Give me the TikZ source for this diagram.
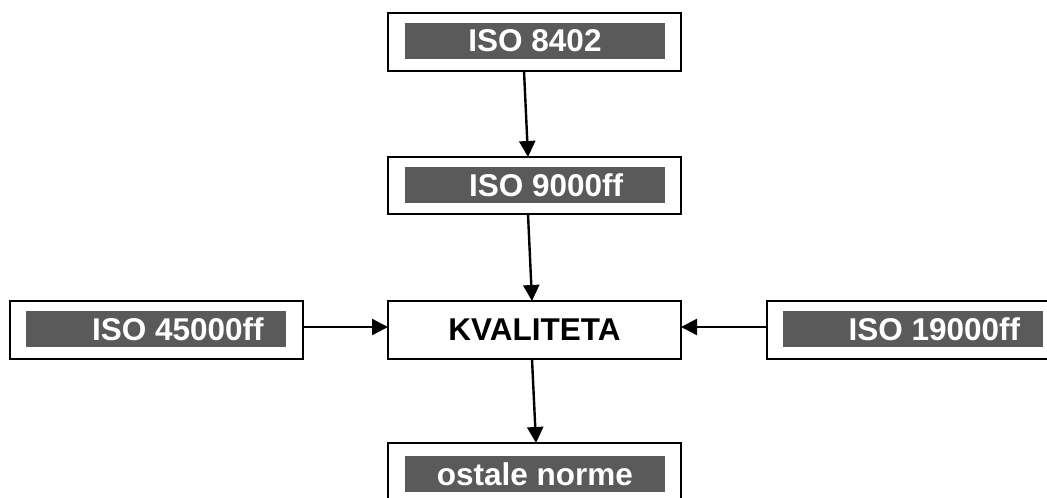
\documentclass[tikz,border=0pt]{standalone}
\usepackage{fontspec}
\setmainfont{Liberation Sans}
\usetikzlibrary{arrows.meta}
\definecolor{boxgray}{RGB}{90,90,90}
\begin{document}
\begin{tikzpicture}[x=1pt,y=-1pt,
  outer/.style={draw=black, line width=2.2pt, fill=white, minimum width=293pt, minimum height=58pt, inner sep=0pt, outer sep=0pt},
  graybar/.style={fill=boxgray, minimum width=260pt, minimum height=36pt, inner sep=0pt},
  lbl/.style={font=\fontsize{31.5}{36}\selectfont\bfseries, inner sep=0pt},
  wlbl/.style={lbl, text=white},
  conn/.style={line width=2.4pt, -{Triangle[length=16pt,width=16pt]}}]
\useasboundingbox (0,0) rectangle (1047,498);
\clip (0,0) rectangle (1047,498);
% boxes
\node[outer] (top) at (534.5,41.75) {};
\node[graybar] (gtop) at (535,41) {};
\node[wlbl] (ttop) at (gtop.center) {ISO 8402};

\node[outer, minimum height=57pt] (b2) at (534.5,185.5) {};
\node[graybar] (g2) at (535,185) {};
\node[wlbl, anchor=west] (t2) at ([xshift=64pt]g2.west) {ISO 9000ff};

\node[outer] (kval) at (534.5,330) {};
\node[lbl] (tk) at (kval.center) {KVALITETA};

\node[outer] (left) at (156.5,330) {};
\node[graybar] (gl) at (156,329) {};
\node[wlbl, anchor=west] (tl) at ([xshift=66pt]gl.west) {ISO 45000ff};

\node[outer] (right) at (913.5,330) {};
\node[graybar] (gr) at (912.5,329) {};
\node[wlbl, anchor=west] (tr) at ([xshift=66pt]gr.west) {ISO 19000ff};

\node[outer] (bot) at (534.5,472) {};
\node[graybar] (gb) at (535,474) {};
\node[wlbl] (tb) at (gb.center) {ostale norme};

% connectors
\draw[conn] ([xshift=-10.5pt]top.south) -- ([xshift=-6.5pt]b2.north);
\draw[conn] ([xshift=-6.5pt]b2.south) -- ([xshift=-2.5pt]kval.north);
\draw[conn] ([xshift=-2.5pt]kval.south) -- ([xshift=1.5pt]bot.north);
\draw[conn] ([yshift=3pt]left.east) -- ([yshift=3pt]kval.west);
\draw[conn] ([yshift=3pt]right.west) -- ([yshift=3pt]kval.east);
\end{tikzpicture}
\end{document}
